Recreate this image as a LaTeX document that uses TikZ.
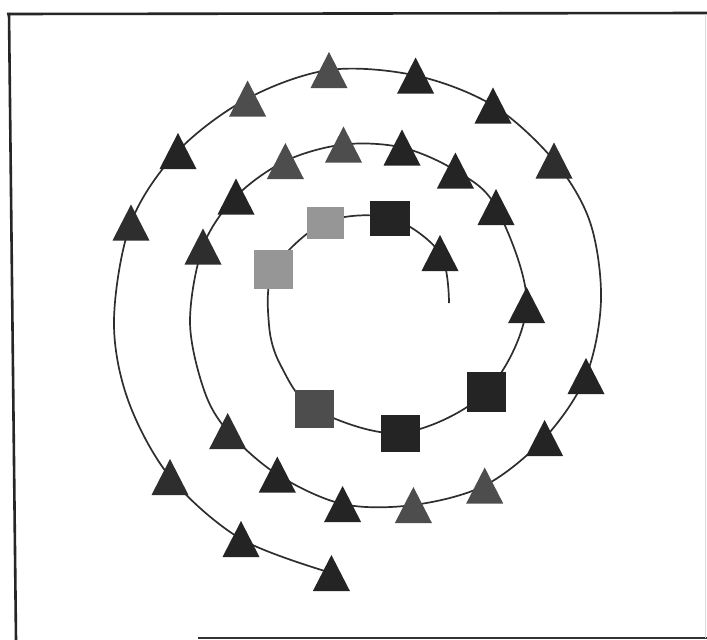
\documentclass[tikz,border=0pt]{standalone}
\usetikzlibrary{backgrounds}
\definecolor{dk}{HTML}{242424}
\definecolor{dk2}{HTML}{2E2E2E}
\definecolor{md}{HTML}{4D4D4D}
\definecolor{lt}{HTML}{969696}
\definecolor{ln}{HTML}{2E2E2E}
\tikzset{
  tri/.style={minimum width=37pt, minimum height=36pt, inner sep=0pt, outer sep=0pt,
    path picture={\fill[#1] (path picture bounding box.south west) -- (path picture bounding box.south east) -- (path picture bounding box.north) -- cycle;}},
  sqbox/.style={fill=#1, inner sep=0pt, outer sep=0pt, minimum width=39pt, minimum height=37pt},
  spiral/.style={ln, line width=1.7pt},
  frame/.style={draw=black!85, line width=2.6pt}
}
\begin{document}
\begin{tikzpicture}[x=1pt, y=-1pt]
\useasboundingbox (0,0) rectangle (707,640);
% outer ring
\node[tri=md]  (o1)  at (329,70) {};
\node[tri=dk]  (o2)  at (415.6,75.5) {};
\node[tri=dk]  (o3)  at (493,105.5) {};
\node[tri=dk2] (o4)  at (554,160.5) {};
\node[tri=md]  (o5)  at (247.6,98.5) {};
\node[tri=dk]  (o6)  at (178,151) {};
\node[tri=dk2] (o7)  at (131,222.5) {};
\node[tri=dk]  (o8)  at (586,376) {};
\node[tri=dk]  (o9)  at (544.6,438) {};
\node[tri=md]  (o10) at (484.7,485.5) {};
\node[tri=dk2] (o11) at (170,477) {};
\node[tri=dk]  (o12) at (241,539) {};
\node[tri=dk]  (o13) at (331.4,573) {};
% inner ring
\node[tri=md]  (i1)  at (343.5,144.5) {};
\node[tri=dk]  (i2)  at (402,147.5) {};
\node[tri=dk]  (i3)  at (455.4,170.5) {};
\node[tri=md]  (i4)  at (285.4,161) {};
\node[tri=dk]  (i5)  at (236,196.5) {};
\node[tri=dk2] (i6)  at (203,246.5) {};
\node[tri=dk]  (i7)  at (496,207) {};
\node[tri=dk]  (i8)  at (526.6,305) {};
\node[tri=dk2] (i9)  at (227.7,431) {};
\node[tri=dk]  (i10) at (277.3,474.5) {};
\node[tri=dk]  (i11) at (342.6,504) {};
\node[tri=md]  (i12) at (413.4,505) {};
% innermost
\node[tri=dk]  (c1)  at (440,253) {};
\coordinate (e) at (449,303);
\node[sqbox=dk, minimum width=40pt, minimum height=35pt] (s1) at (390.3,218) {};
\node[sqbox=lt, minimum width=37pt, minimum height=32pt] (s2) at (325,222.5) {};
\node[sqbox=lt, minimum height=39pt] (s3) at (273.8,269.7) {};
\node[sqbox=md, minimum height=38pt] (s4) at (314.5,409) {};
\node[sqbox=dk] (s5) at (400.5,433) {};
\node[sqbox=dk, minimum height=40pt] (s6) at (486,392) {};
% guide points of the spiral
\coordinate (ga) at (269,325);
\coordinate (gb) at (281,366);
\coordinate (gc) at (190,322);
\coordinate (gd) at (204,390);
\coordinate (ge) at (601,300);
\coordinate (gf) at (590,222);
\coordinate (gg) at (114,320);
\coordinate (gh) at (128,400);
\begin{pgfonlayer}{background}
\fill[white] (0,0) rectangle (707,640);
\draw[spiral] plot[smooth, tension=0.55] coordinates {
  (e) (c1.center) (s1.center) (s2.center) (s3.center) (ga) (gb) (s4.center)
  (s5.center) (s6.center) (i8.center) (i7.center) (i3.center) (i2.center)
  (i1.center) (i4.center) (i5.center) (i6.center) (gc) (gd) (i9.center)
  (i10.center) (i11.center) (i12.center) (o10.center) (o9.center) (o8.center)
  (ge) (gf) (o4.center) (o3.center) (o2.center) (o1.center) (o5.center)
  (o6.center) (o7.center) (gg) (gh) (o11.center) (o12.center) (o13.center)};
\end{pgfonlayer}
% frame
\draw[frame] (7,14) -- (707,13);
\draw[frame] (9,13) -- (16,640);
\draw[draw=black!80, line width=2pt] (198,638) -- (707,638);
\draw[draw=black!15, line width=1pt] (705.5,14) -- (705.5,638);
\end{tikzpicture}
\end{document}
